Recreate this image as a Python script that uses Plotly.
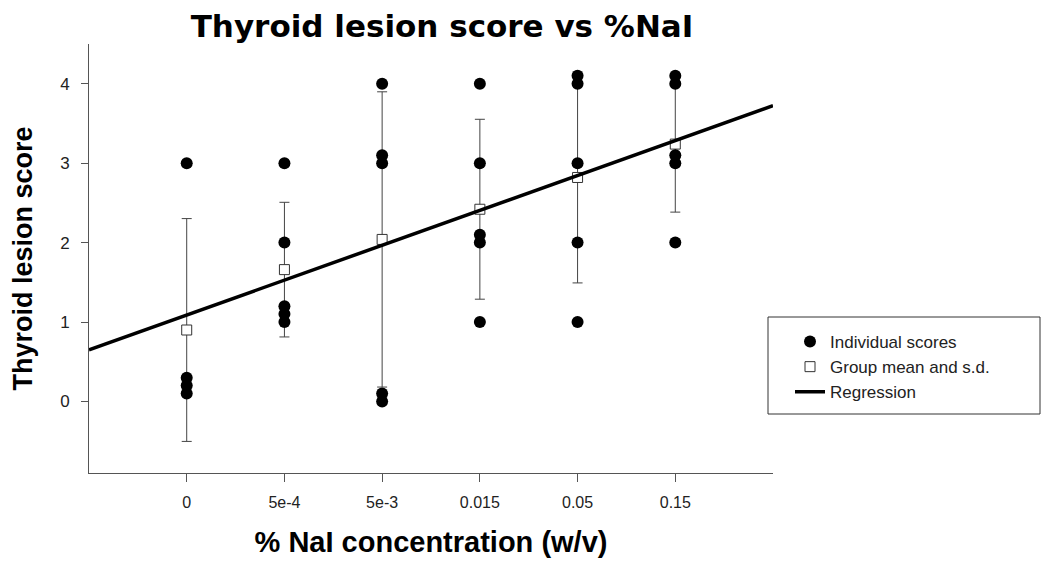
import numpy as np
import plotly.graph_objects as go

# ---- data ----
categories = ["0", "5e-4", "5e-3", "0.015", "0.05", "0.15"]
scores_0 = [3.0, 0.3, 0.2, 0.1]
scores_5e4 = [3.0, 2.0, 1.2, 1.1, 1.0]
scores_5e3 = [4.0, 3.1, 3.0, 0.1, 0.0]
scores_0015 = [4.0, 3.0, 2.1, 2.0, 1.0]
scores_005 = [4.1, 4.0, 3.0, 2.0, 1.0]
scores_015 = [4.1, 4.0, 3.1, 3.0, 2.0]
groups = [scores_0, scores_5e4, scores_5e3, scores_0015, scores_005, scores_015]

# individual points
ind_x = [i for i, g in enumerate(groups) for _ in g]
ind_y = [v for g in groups for v in g]

# group mean and s.d.
means = [float(np.mean(g)) for g in groups]
sds = [float(np.std(g, ddof=1)) for g in groups]
idx = list(range(len(categories)))

# regression on individual scores
slope, intercept = np.polyfit(ind_x, ind_y, 1)
reg_x = [-1, 6]
reg_y = [intercept + slope * x for x in reg_x]

fig = go.Figure()

fig.add_trace(go.Scatter(
    x=idx, y=means, mode="markers", name="Group mean and s.d.",
    legendrank=2,
    marker=dict(symbol="square", size=10, color="white",
                line=dict(color="#333333", width=1)),
    error_y=dict(type="data", array=sds, visible=True,
                 color="#444444", thickness=1, width=5),
))
fig.add_trace(go.Scatter(
    x=ind_x, y=ind_y, mode="markers", name="Individual scores",
    legendrank=1,
    marker=dict(symbol="circle", size=12, color="black"),
))
fig.add_trace(go.Scatter(
    x=reg_x, y=reg_y, mode="lines", name="Regression",
    legendrank=3,
    line=dict(color="black", width=3.5),
))

# page body has an 8px margin; work in reference pixel coords minus offset
O = 8
W, H = 1050 - O, 564 - O
px0, px1, py0, py1 = 89 - O, 773 - O, 44 - O, 473 - O   # plot area
L, R, T, B = px0, W - px1, py0, H - py1
pw, ph = px1 - px0, py1 - py0


def fx(x):
    return (x - O - px0) / pw


def fy(y):
    return (py1 - (y - O)) / ph


fig.update_layout(
    width=W, height=H,
    margin=dict(l=L, r=R, t=T, b=B, autoexpand=False),
    paper_bgcolor="white", plot_bgcolor="white",
    font=dict(family="Liberation Sans, Arial, sans-serif", color="#111111"),
    title=dict(text="<b>Thyroid lesion score vs %NaI</b>",
               font=dict(family="DejaVu Sans", size=31, color="black"),
               x=(442 - O) / W, xanchor="center", xref="container",
               y=1 - (26 - O) / H, yref="container", yanchor="middle"),
    showlegend=True,
    legend=dict(x=fx(790), xanchor="left", y=fy(324), yanchor="top",
                bgcolor="rgba(0,0,0,0)", borderwidth=0,
                font=dict(family="Liberation Sans, Arial, sans-serif", size=17, color="#222222"),
                traceorder="normal"),
    shapes=[dict(type="rect", xref="paper", yref="paper",
                 x0=fx(768), x1=fx(1040), y0=fy(414), y1=fy(317),
                 line=dict(color="#333333", width=1), fillcolor="rgba(0,0,0,0)")],
)

fig.update_xaxes(
    range=[-1, 6], tickmode="array", tickvals=idx, ticktext=categories,
    showline=True, linecolor="#555555", linewidth=1, showgrid=False, zeroline=False,
    ticks="outside", ticklen=8, tickcolor="#555555", tickwidth=1,
    tickfont=dict(size=16, color="#222222"), ticklabelstandoff=7,
    automargin=False,
    title=dict(text="<b>% NaI concentration (w/v)</b>",
               font=dict(size=29, color="black"), standoff=21),
)
fig.update_yaxes(
    range=[-0.9, 4.5], tickvals=[0, 1, 2, 3, 4],
    showline=True, linecolor="#555555", linewidth=1, showgrid=False, zeroline=False,
    ticks="outside", ticklen=7, tickcolor="#555555", tickwidth=1,
    tickfont=dict(size=17, color="#222222"), ticklabelstandoff=8,
    automargin=False,
    title=dict(text="<b>Thyroid lesion score</b>",
               font=dict(size=27, color="black"), standoff=27),
)

fig.write_html("out.html")
